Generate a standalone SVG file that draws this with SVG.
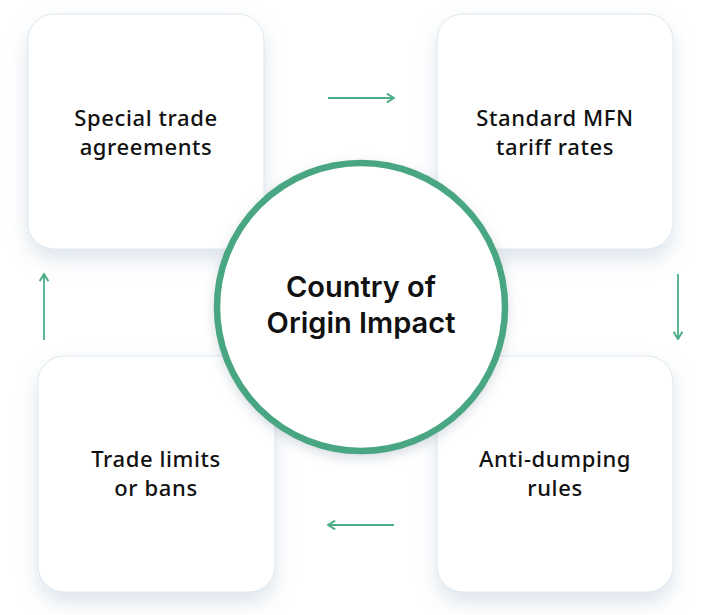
<svg xmlns="http://www.w3.org/2000/svg" width="715" height="615" viewBox="0 0 715 615">
  <defs>
    <filter id="shadow" x="-30%" y="-30%" width="160%" height="170%">
      <feDropShadow dx="0" dy="10" stdDeviation="10" flood-color="#9fb3c8" flood-opacity="0.35"/>
    </filter>
    <filter id="cshadow" x="-20%" y="-20%" width="140%" height="140%">
      <feDropShadow dx="0" dy="4" stdDeviation="6" flood-color="#7a8c9c" flood-opacity="0.3"/>
    </filter>
    <marker id="arrow" viewBox="0 0 10 10" refX="9" refY="5" markerWidth="11" markerHeight="11" markerUnits="userSpaceOnUse" orient="auto">
      <path d="M2.5,1 L9,5 L2.5,9" fill="none" stroke="#4bae87" stroke-width="1.8"/>
    </marker>
  </defs>
  <style>
    .card { fill: #ffffff; stroke: #dce8f1; stroke-width: 1; }
    .label { font-family: "Noto Sans", "Open Sans", sans-serif; font-weight: 500; font-size: 22px; letter-spacing: 0.6px; fill: #111111; text-anchor: middle; }
    .center { font-family: "Inter", "Liberation Sans", sans-serif; font-weight: 600; font-size: 29px; fill: #111111; text-anchor: middle; }
    .conn { stroke: #4bae87; stroke-width: 1.8; fill: none; marker-end: url(#arrow); }
  </style>
  <rect width="715" height="615" fill="#ffffff"/>

  <g id="node-special">
    <rect class="card" x="28" y="14" width="236" height="235" rx="26" filter="url(#shadow)"/>
    <text class="label" x="146" y="126">Special trade</text>
    <text class="label" x="146" y="155">agreements</text>
  </g>
  <g id="node-mfn">
    <rect class="card" x="437" y="14" width="236" height="235" rx="26" filter="url(#shadow)"/>
    <text class="label" x="555" y="126">Standard MFN</text>
    <text class="label" x="555" y="155">tariff rates</text>
  </g>
  <g id="node-antidumping">
    <rect class="card" x="437" y="356" width="236" height="236" rx="26" filter="url(#shadow)"/>
    <text class="label" x="555" y="467">Anti-dumping</text>
    <text class="label" x="555" y="496">rules</text>
  </g>
  <g id="node-limits">
    <rect class="card" x="38" y="356" width="237" height="236" rx="26" filter="url(#shadow)"/>
    <text class="label" x="156" y="467">Trade limits</text>
    <text class="label" x="156" y="496">or bans</text>
  </g>

  <g id="node-center">
    <circle cx="361" cy="307" r="144" fill="#ffffff" stroke="#4aa683" stroke-width="6.5" filter="url(#cshadow)"/>
    <text class="center" x="361" y="297">Country of</text>
    <text class="center" x="361" y="333">Origin Impact</text>
  </g>

  <g id="connectors">
    <line class="conn" x1="328" y1="98" x2="394" y2="98"/>
    <line class="conn" x1="678" y1="274" x2="678" y2="339"/>
    <line class="conn" x1="394" y1="525" x2="328" y2="525"/>
    <line class="conn" x1="44" y1="340" x2="44" y2="274"/>
  </g>
</svg>
